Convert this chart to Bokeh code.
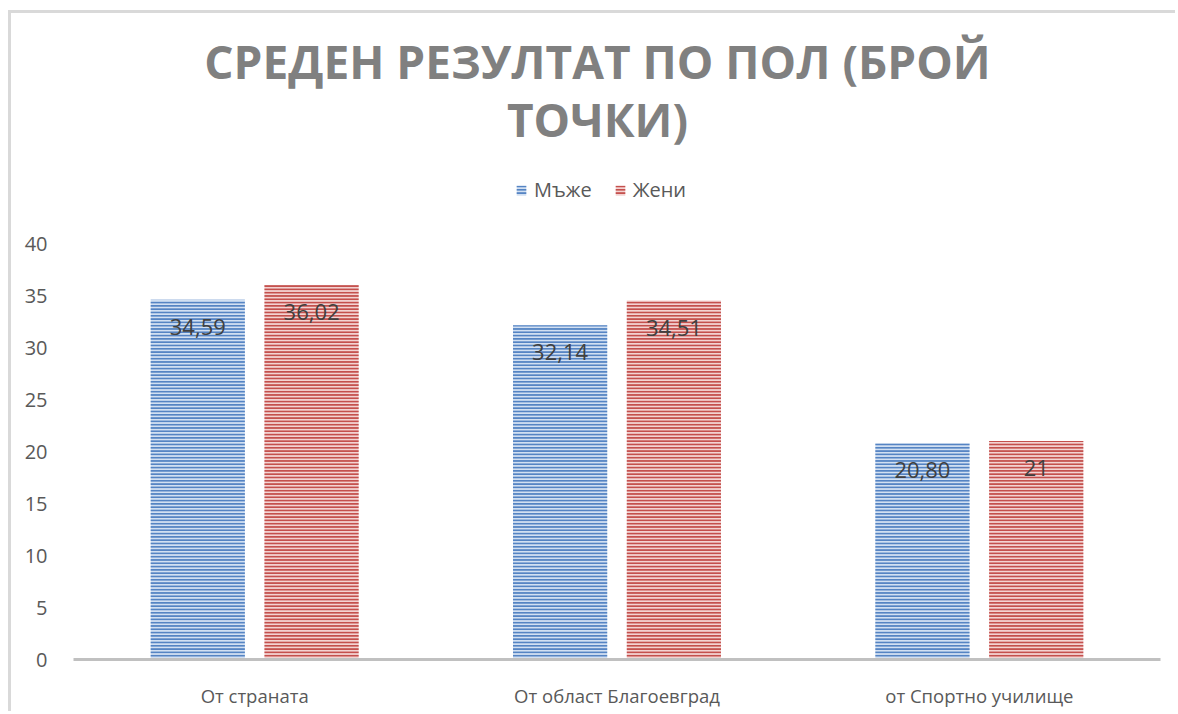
from bokeh.plotting import figure
from bokeh.models import ColumnDataSource, FactorRange, FixedTicker, Label, Legend, LegendItem
from bokeh.transform import dodge
from bokeh.core.properties import value
from bokeh.embed import file_html
from bokeh.resources import INLINE

categories = ["От страната", "От област Благоевград", "от Спортно училище"]
men = [34.59, 32.14, 20.80]
women = [36.02, 34.51, 21.0]
men_labels = ["34,59", "32,14", "20,80"]
women_labels = ["36,02", "34,51", "21"]
series_names = ["Мъже", "Жени"]
y_ticks = [0, 5, 10, 15, 20, 25, 30, 35, 40]
title_lines = ["СРЕДЕН РЕЗУЛТАТ ПО ПОЛ (БРОЙ", "ТОЧКИ)"]

FONT = "Open Sans"
GRAY = "#595959"

src = ColumnDataSource(dict(cat=categories, men=men, women=women,
                            men_lab=men_labels, women_lab=women_labels))

FRAME_H = 646
p = figure(x_range=FactorRange(*categories, range_padding=0), y_range=(0, FRAME_H / 10.4),
           frame_width=1087, frame_height=FRAME_H, output_backend="svg", toolbar_location=None,
           min_border_left=62, min_border_right=15, min_border_bottom=52, min_border_top=0)
p.styles = {"margin-left": "8px", "margin-top": "10px",
            "border-top": "3px solid #d9d9d9", "border-left": "3px solid #d9d9d9"}
p.outline_line_color = None
p.xgrid.visible = False
p.ygrid.visible = False

off = 0.157
w = 0.26
r_men = p.vbar(x=dodge("cat", -off, range=p.x_range), top="men", width=w, source=src,
               fill_color="#d2e0f2", line_color=None,
               hatch_pattern="horizontal_line", hatch_color="#5584c3", hatch_scale=3.3, hatch_weight=2.0)
r_wom = p.vbar(x=dodge("cat", off, range=p.x_range), top="women", width=w, source=src,
               fill_color="#f3d3d2", line_color=None,
               hatch_pattern="horizontal_line", hatch_color="#c4504d", hatch_scale=3.3, hatch_weight=2.0)

p.text(x=dodge("cat", -off, range=p.x_range), y="men", text="men_lab", source=src,
       text_align="center", text_baseline="middle", y_offset=27,
       text_font=value(FONT), text_font_size="22px", text_color="#404040")
p.text(x=dodge("cat", off, range=p.x_range), y="women", text="women_lab", source=src,
       text_align="center", text_baseline="middle", y_offset=27,
       text_font=value(FONT), text_font_size="22px", text_color="#404040")

p.yaxis.ticker = FixedTicker(ticks=y_ticks)
p.yaxis.axis_line_color = None
p.yaxis.major_tick_line_color = None
p.yaxis.minor_tick_line_color = None
p.yaxis.major_label_text_font = FONT
p.yaxis.major_label_text_font_size = "20px"
p.yaxis.major_label_text_color = GRAY
p.yaxis.major_label_standoff = 20

p.xaxis.axis_line_color = "#c0c0c0"
p.xaxis.axis_line_width = 3
p.xaxis.major_tick_line_color = None
p.xaxis.minor_tick_line_color = None
p.xaxis.major_label_text_font = FONT
p.xaxis.major_label_text_font_size = "18.5px"
p.xaxis.major_label_text_color = GRAY
p.xaxis.major_label_standoff = 17

legend = Legend(items=[LegendItem(label=series_names[0], renderers=[r_men]),
                       LegendItem(label=series_names[1], renderers=[r_wom])],
                orientation="horizontal", location=(442, 456),
                glyph_width=12, glyph_height=12, spacing=22, label_standoff=7,
                label_text_font=FONT, label_text_font_size="20px", label_text_color=GRAY,
                border_line_color=None, background_fill_alpha=0, margin=0, padding=0)
p.add_layout(legend, "center")

for line, ys in zip(title_lines, [599, 541]):
    p.add_layout(Label(x=524, y=ys, x_units="screen", y_units="screen", text=line,
                       text_align="center", text_baseline="middle",
                       text_font=FONT, text_font_size="46px", text_font_style="bold",
                       text_color="#808080"))

open("out.html", "w").write(file_html(p, INLINE))
